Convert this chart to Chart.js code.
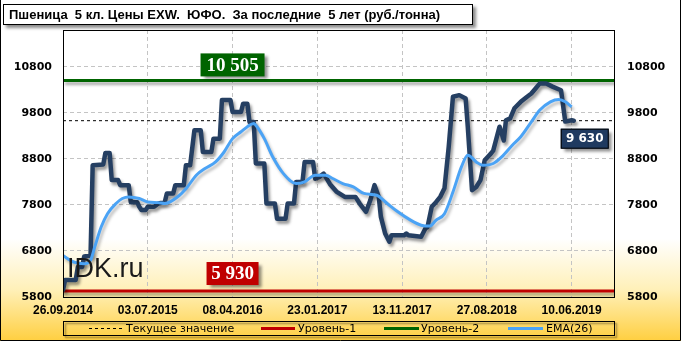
<!DOCTYPE html>
<html>
<head>
<meta charset="utf-8">
<script src="https://cdn.jsdelivr.net/npm/chart.js@4.4.1/dist/chart.umd.min.js"></script>
<style>
  html, body { margin: 0; padding: 0; background: #fff; }
  #wrap { width: 681px; height: 341px; }
</style>
</head>
<body>
<div id="wrap"><canvas id="chart" width="681" height="341"></canvas></div>
<script>
// Wheat, class 5, EXW prices, South FD, last 5 years (rub/t), weekly index on x
const dateLabels = ['26.09.2014', '03.07.2015', '08.04.2016', '23.01.2017', '13.11.2017', '27.08.2018', '10.06.2019'];
const xTickWeeks = [0, 40, 80, 120, 160, 200, 240];
const yTicks = [5800, 6800, 7800, 8800, 9800, 10800];

const priceWeeks = [0, 1, 6, 7, 9, 10, 13, 14, 19, 20, 22, 23, 26, 27, 31, 32, 35, 36, 37, 39,
  40, 43, 45, 48, 49, 52, 53, 57, 58, 60, 62, 65, 66, 70, 71, 74, 75, 79, 80, 84,
  85, 87, 88, 90, 91, 95, 96, 100, 101, 105, 106, 109, 110, 113, 114, 118, 119, 121, 123, 126,
  129, 133, 138, 140, 143, 145, 147, 149, 150, 152, 154, 155, 161, 162, 163, 169, 171, 172, 174, 176,
  178, 180, 182, 184, 187, 190, 191, 193, 195, 197, 199, 202, 203, 206, 208, 209, 211, 213, 216, 219,
  221, 223, 225, 228, 231, 235, 237, 240, 241];
const priceValues = [5950, 6170, 6170, 6450, 6450, 6680, 6700, 8660, 8680, 8930, 8930, 8340, 8340, 8230, 8230, 7860, 7860, 7760, 7690, 7690,
  7760, 7760, 7830, 7860, 8050, 8050, 8230, 8230, 8660, 8660, 9420, 9420, 8950, 8950, 9240, 9240, 10080, 10080, 9820, 9820,
  10000, 10000, 9600, 9600, 8700, 8700, 7830, 7830, 7500, 7500, 7830, 7830, 8300, 8300, 8730, 8730, 8370, 8410, 8480, 8250,
  8090, 7975, 7975, 7830, 7650, 7900, 8230, 7970, 7540, 7180, 7000, 7140, 7140, 7180, 7140, 7110, 7290, 7320, 7760, 7860,
  7975, 8160, 9060, 10150, 10185, 10110, 9500, 8120, 8190, 8340, 8770, 8920, 8980, 9500, 9200, 9640, 9680, 9900, 10040, 10150,
  10220, 10330, 10440, 10440, 10370, 10290, 9610, 9640, 9630];

const emaWeeks = [0, 5, 10, 13, 15, 18, 21, 25, 28, 31, 36, 40, 45, 48, 55, 58, 63, 67, 72, 76,
  80, 84, 87, 90, 91, 95, 99, 104, 110, 114, 119, 124, 127, 132, 137, 142, 148, 153, 158, 164,
  169, 173, 176, 180, 184, 188, 191, 195, 198, 203, 207, 212, 216, 221, 225, 230, 234, 237, 240];
const emaValues = [6700, 6560, 6525, 6600, 6890, 7320, 7610, 7830, 7940, 7975, 7940, 7865, 7850, 7830, 8010, 8150, 8450, 8590, 8735, 8950,
  9240, 9390, 9500, 9570, 9530, 9240, 8840, 8480, 8265, 8300, 8446, 8446, 8380, 8265, 8190, 8050, 8010, 7830, 7650, 7470,
  7360, 7340, 7467, 7610, 8080, 8626, 8880, 8735, 8663, 8700, 8843, 9098, 9280, 9604, 9860, 10040, 10090, 10040, 9930];

const currentValue = 9630;
const level1 = 5930;
const level2 = 10505;
const lastWeek = 260;

const fmt = v => String(v).replace(/\B(?=(\d{3})+(?!\d))/g, ' ');
const toPoints = (xs, ys) => xs.map((x, i) => ({ x: x, y: ys[i] }));
const flat = v => [{ x: 0, y: v }, { x: lastWeek, y: v }];

// background, title box, outer frame
const backgroundPlugin = {
  id: 'background',
  beforeDraw(chart) {
    const ctx = chart.ctx;
    ctx.save();
    const g = ctx.createLinearGradient(0, 0, 0, chart.height);
    g.addColorStop(0, '#ffffff');
    g.addColorStop(0.7, '#ffffff');
    g.addColorStop(0.85, '#fff0b8');
    g.addColorStop(1, '#ffcf40');
    ctx.fillStyle = g;
    ctx.fillRect(0, 0, chart.width, chart.height);

    // outer frame
    ctx.strokeStyle = '#000';
    ctx.lineWidth = 1;
    ctx.beginPath();
    ctx.moveTo(0.5, 0); ctx.lineTo(0.5, chart.height - 0.5);
    ctx.lineTo(chart.width - 0.5, chart.height - 0.5); ctx.lineTo(chart.width - 0.5, 0);
    ctx.stroke();

    // title
    ctx.save();
    ctx.shadowColor = 'rgba(0,0,0,0.45)';
    ctx.shadowOffsetX = 3; ctx.shadowOffsetY = 3; ctx.shadowBlur = 3;
    ctx.fillStyle = '#fff';
    ctx.fillRect(3, 4, 470, 21);
    ctx.restore();
    ctx.strokeRect(3.5, 4.5, 469, 20);
    ctx.fillStyle = '#000';
    ctx.font = 'bold 13px "Liberation Sans"';
    ctx.textBaseline = 'middle';
    ctx.fillText('Пшеница  5 кл. Цены EXW.  ЮФО.  За последние  5 лет (руб./тонна)', 9, 15);
    ctx.restore();
  }
};

// drop shadows under the lines
const shadowPlugin = {
  id: 'lineShadow',
  beforeDatasetDraw(chart, args) {
    const ds = chart.data.datasets[args.index];
    if (!ds.shadowColor) return;
    const ctx = chart.ctx;
    ctx.save();
    ctx.shadowColor = ds.shadowColor;
    ctx.shadowOffsetX = 2;
    ctx.shadowOffsetY = 3;
    ctx.shadowBlur = 3;
  },
  afterDatasetDraw(chart, args) {
    const ds = chart.data.datasets[args.index];
    if (ds.shadowColor) chart.ctx.restore();
  }
};

function labelBox(ctx, x, y, w, h, fill, text, font) {
  ctx.save();
  ctx.shadowColor = 'rgba(0,0,0,0.45)';
  ctx.shadowOffsetX = 3; ctx.shadowOffsetY = 3; ctx.shadowBlur = 3;
  ctx.fillStyle = fill;
  ctx.fillRect(x, y, w, h);
  ctx.restore();
  ctx.save();
  ctx.fillStyle = '#fff';
  ctx.font = font;
  ctx.textAlign = 'center';
  ctx.textBaseline = 'middle';
  ctx.fillText(text, x + w / 2, y + h / 2 + 1);
  ctx.restore();
}

// plot frame, value boxes, watermark, legend
const overlayPlugin = {
  id: 'overlay',
  afterDraw(chart) {
    const ctx = chart.ctx;
    const a = chart.chartArea;
    const xs = chart.scales.x, ys = chart.scales.y;
    ctx.save();
    ctx.strokeStyle = '#000';
    ctx.lineWidth = 1;
    ctx.strokeRect(Math.round(a.left) + 0.5, Math.round(a.top) + 0.5, Math.round(a.right - a.left), Math.round(a.bottom - a.top));

    ctx.fillStyle = '#1a1a1a';
    ctx.font = '27px "Liberation Sans"';
    ctx.textBaseline = 'alphabetic';
    ctx.fillText('IDK.ru', 67, 277);

    const lx = xs.getPixelForValue(80);
    labelBox(ctx, lx - 32, ys.getPixelForValue(level2) - 27, 64, 23, '#006400', fmt(level2), 'bold 19px "Liberation Serif"');
    labelBox(ctx, lx - 26, ys.getPixelForValue(level1) - 29, 52, 23, '#c00000', fmt(level1), 'bold 19px "Liberation Serif"');

    const px = xs.getPixelForValue(priceWeeks[priceWeeks.length - 1]);
    const py = ys.getPixelForValue(currentValue);
    ctx.save();
    ctx.shadowColor = 'rgba(0,0,0,0.45)';
    ctx.shadowOffsetX = 3; ctx.shadowOffsetY = 3; ctx.shadowBlur = 3;
    ctx.fillStyle = '#1f3a60';
    ctx.fillRect(px - 13, py + 8, 48, 20);
    ctx.restore();
    ctx.strokeStyle = '#000';
    ctx.strokeRect(px - 12.5, py + 8.5, 47, 19);
    ctx.fillStyle = '#fff';
    ctx.font = 'bold 12px "DejaVu Sans"';
    ctx.textAlign = 'center';
    ctx.textBaseline = 'middle';
    ctx.fillText(fmt(currentValue), px + 11, py + 18.5);

    // legend
    ctx.save();
    ctx.shadowColor = 'rgba(0,0,0,0.5)';
    ctx.shadowOffsetX = 2; ctx.shadowOffsetY = 2; ctx.shadowBlur = 2;
    ctx.strokeStyle = '#000';
    ctx.strokeRect(Math.round(a.left) + 0.5, 321.5, Math.round(a.right - a.left), 14);
    ctx.restore();
    const items = [
      { x1: 89, x2: 122, tx: 126, color: '#000', width: 1, dash: [3, 3], text: 'Текущее значение' },
      { x1: 261, x2: 295, tx: 298, color: '#c00000', width: 3, dash: [], text: 'Уровень-1' },
      { x1: 384, x2: 419, tx: 421, color: '#006400', width: 3, dash: [], text: 'Уровень-2' },
      { x1: 508, x2: 543, tx: 546, color: '#4ba3f5', width: 3, dash: [], text: 'EMA(26)' }
    ];
    ctx.font = '11px "DejaVu Sans"';
    ctx.textAlign = 'left';
    ctx.textBaseline = 'middle';
    items.forEach(it => {
      ctx.beginPath();
      ctx.setLineDash(it.dash);
      ctx.strokeStyle = it.color;
      ctx.lineWidth = it.width;
      ctx.moveTo(it.x1, 328.5);
      ctx.lineTo(it.x2, 328.5);
      ctx.stroke();
      ctx.setLineDash([]);
      ctx.fillStyle = '#000';
      ctx.fillText(it.text, it.tx, 329);
    });
    ctx.restore();
  }
};

const tickFont = { family: 'DejaVu Sans', size: 11, weight: 'bold' };

new Chart(document.getElementById('chart'), {
  type: 'line',
  data: {
    datasets: [
      {
        label: 'EMA(26)',
        data: toPoints(emaWeeks, emaValues),
        borderColor: '#4ba3f5',
        borderWidth: 3,
        pointRadius: 0,
        cubicInterpolationMode: 'monotone',
        shadowColor: 'rgba(0,0,0,0.25)'
      },
      {
        label: 'Цена',
        data: toPoints(priceWeeks, priceValues),
        borderColor: '#253f62',
        borderWidth: 4.5,
        pointRadius: 0,
        tension: 0,
        borderJoinStyle: 'round',
        borderCapStyle: 'round',
        shadowColor: 'rgba(0,0,0,0.4)'
      },
      {
        label: 'Текущее значение',
        data: flat(currentValue),
        borderColor: '#000',
        borderWidth: 1,
        borderDash: [3, 3],
        pointRadius: 0
      },
      {
        label: 'Уровень-2',
        data: flat(level2),
        borderColor: '#006400',
        borderWidth: 3,
        pointRadius: 0,
        shadowColor: 'rgba(0,0,0,0.35)'
      },
      {
        label: 'Уровень-1',
        data: flat(level1),
        borderColor: '#c00000',
        borderWidth: 3,
        pointRadius: 0,
        shadowColor: 'rgba(0,0,0,0.35)'
      }
    ]
  },
  options: {
    responsive: false,
    animation: false,
    devicePixelRatio: 1,
    layout: { padding: { top: 30, left: 0, right: 0, bottom: 0 } },
    plugins: { legend: { display: false }, tooltip: { enabled: false } },
    scales: {
      x: {
        type: 'linear',
        min: 0,
        max: lastWeek,
        afterBuildTicks: axis => { axis.ticks = xTickWeeks.map(v => ({ value: v })); },
        afterFit: axis => { axis.height = 44; },
        ticks: {
          autoSkip: false,
          maxRotation: 0,
          padding: 6,
          color: '#000',
          font: { family: 'Liberation Sans', size: 12, weight: 'bold' },
          callback: v => dateLabels[xTickWeeks.indexOf(v)]
        },
        grid: { color: '#c4c4c4', drawTicks: false },
        border: { display: false, dash: [4, 3] }
      },
      y: {
        position: 'left',
        min: 5800,
        max: 11600,
        afterBuildTicks: axis => { axis.ticks = yTicks.map(v => ({ value: v })); },
        afterFit: axis => { axis.width = 63; },
        ticks: { padding: 11, color: '#000', font: tickFont, callback: v => String(v) },
        grid: { color: '#c4c4c4', drawTicks: false },
        border: { display: false, dash: [4, 3] }
      },
      y2: {
        position: 'right',
        min: 5800,
        max: 11600,
        afterBuildTicks: axis => { axis.ticks = yTicks.map(v => ({ value: v })); },
        afterFit: axis => { axis.width = 67; },
        ticks: { padding: 13, color: '#000', font: tickFont, callback: v => String(v) },
        grid: { display: false, drawTicks: false },
        border: { display: false }
      }
    }
  },
  plugins: [backgroundPlugin, shadowPlugin, overlayPlugin]
});
</script>
</body>
</html>
